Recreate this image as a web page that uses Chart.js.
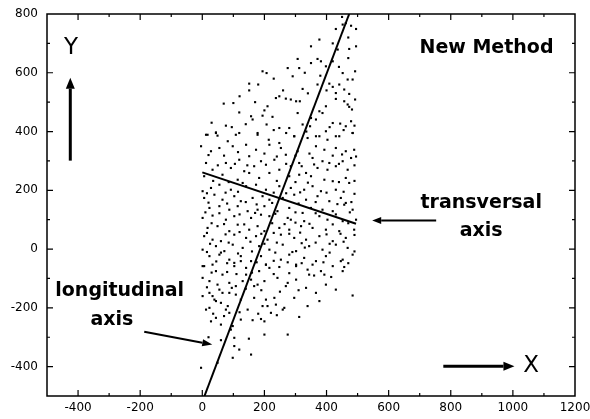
<!DOCTYPE html>
<html>
<head>
<meta charset="utf-8">
<script src="https://cdn.jsdelivr.net/npm/chart.js@4.4.1/dist/chart.umd.min.js"></script>
<style>
html,body{margin:0;padding:0;background:#fff;}
#c{display:block;}
</style>
</head>
<body>
<canvas id="c" width="590" height="419"></canvas>
<script>
// ---- data ----
const xTicks = [-400, -200, 0, 200, 400, 600, 800, 1000, 1200];
const yTicks = [-400, -200, 0, 200, 400, 600, 800];

const longAxisX = [7, 473];
const longAxisY = [-500, 800];
const transAxisX = [0, 495];
const transAxisY = [261, 86];

// scattered points [x, y]
const cloud = [
[452,764],[462,769],[479,760],[430,749],[495,749],[377,713],[473,681],[495,690],[436,679],[307,647],
[350,633],[371,647],[382,639],[420,639],[398,622],[275,616],[312,616],[194,605],[207,599],[452,599],
[492,605],[291,588],[230,580],[151,563],[180,560],[409,563],[420,552],[441,560],[468,577],[484,577],
[151,540],[323,545],[371,560],[457,543],[430,531],[473,528],[237,514],[248,520],[269,512],[285,509],
[302,503],[314,503],[430,511],[492,509],[457,503],[69,495],[100,497],[210,486],[200,472],[398,486],
[468,492],[473,484],[482,475],[119,465],[157,452],[162,441],[194,454],[226,450],[307,463],[387,463],
[377,469],[350,446],[366,441],[76,420],[207,424],[248,412],[280,412],[323,424],[347,418],[420,429],
[444,427],[462,418],[479,435],[17,389],[44,397],[49,386],[119,395],[178,395],[296,384],[366,384],
[398,401],[430,384],[484,395],
[12,389],[44,395],[82,367],[108,389],[178,389],[214,372],[248,361],[296,384],[339,378],[377,384],
[403,372],[441,384],[484,395],
[-4,350],[28,333],[55,344],[98,350],[141,355],[173,338],[216,355],[253,344],[307,333],[366,350],
[393,338],[430,344],[462,333],[489,338],
[12,293],[76,293],[119,304],[151,316],[189,299],[232,304],[269,321],[312,293],[355,310],[387,299],
[409,293],[452,299],[479,310],
[33,270],[92,276],[135,265],[167,282],[205,287],[248,270],[285,282],[334,259],[371,276],[403,270],
[430,282],[468,270],
[6,248],[65,253],[114,236],[151,259],[183,242],[216,259],[280,248],[312,253],[350,248],[393,236],
[420,231],[462,242],
[1,197],[28,208],[55,219],[92,202],[141,214],[173,219],[205,202],[248,214],[285,208],[328,202],
[355,214],[382,197],[430,202],[473,225],
[6,174],[39,185],[65,168],[103,180],[124,163],[162,174],[194,180],[216,168],[259,174],[296,185],
[334,168],[371,180],[409,163],[446,174],[462,157],
[23,140],[55,146],[87,134],[114,146],[146,129],[178,134],[200,146],[242,129],[280,140],[323,123],
[350,140],[387,134],[420,129],[457,151],[484,134],
[1,106],[33,114],[76,100],[103,112],[157,106],[189,117],[216,112],[275,106],[285,100],[328,95],
[377,112],[403,100],[452,95],[495,100],
[17,72],[49,78],[87,61],[114,83],[151,66],[178,78],[200,61],[248,72],[280,66],[318,78],
[355,72],[398,66],[441,61],[489,66],
[6,44],[33,32],[60,27],[103,49],[141,38],[173,44],[210,32],[253,49],[296,38],[334,32],
[377,44],[420,27],[462,38],
[1,-2],[44,10],[71,-7],[98,15],[130,4],[183,10],[216,-2],[259,15],[302,-7],[344,10],
[387,-2],[430,15],[468,4],
[23,-24],[55,-19],[87,-36],[124,-24],[157,-41],[189,-24],[253,-36],[280,-19],[328,-30],[366,-41],
[398,-24],[452,-36],[484,-19],
[1,-58],[33,-53],[103,-58],[141,-64],[205,-53],[248,-61],[302,-58],[355,-53],[420,-58],[457,-61],
[6,-58],[44,-75],[65,-87],[103,-47],[124,-41],[141,-87],[183,-75],[205,-53],[216,-64],[242,-98],
[275,-115],[302,-53],[302,-104],[339,-70],[344,-87],[382,-75],[393,-87],[398,-121],[430,-138],[452,-75],
[446,-41],[484,-158],
[1,-98],[23,-109],[49,-121],[87,-115],[108,-126],[130,-109],[157,-104],[167,-126],[178,-121],[200,-109],
[269,-126],[334,-132],[366,-149],[377,-177],
[1,-160],[23,-149],[33,-160],[39,-172],[65,-149],[87,-149],[108,-155],[124,-172],[167,-166],[205,-172],
[232,-166],[237,-189],[296,-166],[339,-194],
[12,-206],[23,-200],[44,-177],[60,-183],[76,-206],[82,-194],[87,-217],[146,-206],[194,-194],[210,-194],
[221,-217],[259,-206],[264,-200],[312,-231],
[28,-246],[44,-234],[60,-257],[92,-274],[98,-262],[124,-240],[162,-242],[189,-238],[200,-246],
[103,-302],[200,-291],[275,-291],
[103,-330],[119,-342],[98,-370],[157,-359],
[-4,-404],[49,-387],
[30,430],[95,415],[140,425],[230,405],[270,395],[335,400],[410,415],[455,405],[490,420],
[20,320],[70,318],[115,330],[200,325],[240,315],[300,318],[345,325],[420,318],[450,322],[495,315],
[50,285],[105,290],[145,285],[270,290],[320,282],[360,288],[440,290],[490,285],
[35,232],[85,228],[130,225],[240,232],[300,228],[340,226],[440,228],[490,232],
[15,190],[75,192],[115,195],[230,192],[270,190],[315,193],[400,192],[455,195],[490,188],
[20,158],[80,155],[140,160],[175,152],[225,157],[310,155],[365,160],[435,153],[480,160],
[10,125],[55,122],[120,118],[170,123],[235,120],[300,125],[365,122],[430,118],[475,125],
[30,88],[70,85],[135,84],[225,88],[265,85],[300,90],[345,86],[420,84],[470,88],
[15,55],[75,50],[120,58],[190,52],[230,55],[280,52],[315,56],[400,50],[445,52],[490,48],
[25,18],[85,22],[155,25],[200,18],[240,22],[320,20],[365,22],[410,18],[455,25],
[15,-10],[60,-12],[115,-15],[160,-8],[235,-12],[290,-10],[330,5],[410,-12],[490,-8],
[45,-42],[80,-48],[175,-45],[230,-40],[275,-45],[320,-48],[390,-45],[470,-48],
[30,-80],[80,-78],[110,-85],[160,-80],[230,-85],[280,-82],[360,-90],[415,-95],
[15,-130],[55,-138],[95,-132],[140,-135],[190,-140],[250,-145],[310,-140],
[35,-220],[70,-228],[120,-215],[180,-220],[240,-225],
[20,-300],[60,-310],[150,-305],
[120,520],[170,500],[260,540],[340,530],[400,540],[330,600],[380,590],[440,620],[470,650],[350,690],
[420,700],[470,720],[450,790]
];

// annotation anchors (data units)
const labelNewMethod = {text: 'New Method', x: 915, y: 668};
const labelTrans = [{text: 'transversal', x: 898, y: 141}, {text: 'axis', x: 898, y: 46}];
const labelLong = [{text: 'longitudinal', x: -266, y: -161}, {text: 'axis', x: -291, y: -260}];
const arrowTrans = {x1: 753, y1: 97, x2: 547, y2: 97};
const arrowLong = {x1: -187, y1: -281, x2: 32, y2: -325};
const arrowY = {x1: -425, y1: 301, x2: -425, y2: 583};
const arrowX = {x1: 776, y1: -399, x2: 1005, y2: -399};
const labelY = {text: 'Y', x: -423, y: 684};
const labelX = {text: 'X', x: 1059, y: -398};

// ---- drawing ----
const toPts = (xs, ys) => xs.map((x, i) => ({x: x, y: ys[i]}));

function arrow(ctx, x1, y1, x2, y2, lw, hl, hw) {
  const a = Math.atan2(y2 - y1, x2 - x1);
  const bx = x2 - hl * Math.cos(a), by = y2 - hl * Math.sin(a);
  ctx.lineWidth = lw;
  ctx.beginPath(); ctx.moveTo(x1, y1); ctx.lineTo(bx, by); ctx.stroke();
  ctx.beginPath();
  ctx.moveTo(x2, y2);
  ctx.lineTo(bx + hw / 2 * Math.sin(a), by - hw / 2 * Math.cos(a));
  ctx.lineTo(bx - hw / 2 * Math.sin(a), by + hw / 2 * Math.cos(a));
  ctx.closePath(); ctx.fill();
}

const framePlugin = {
  id: 'frame',
  afterDatasetsDraw(chart) {
    const ctx = chart.ctx;
    const {left, right, top, bottom} = chart.chartArea;
    const xs = chart.scales.x, ys = chart.scales.y;
    ctx.save();
    ctx.strokeStyle = '#000'; ctx.fillStyle = '#000';
    ctx.lineWidth = 1.5;
    ctx.strokeRect(left, top, right - left, bottom - top);
    ctx.lineWidth = 1.2;
    ctx.beginPath();
    for (let v = xs.min + 100; v < xs.max; v += 100) {
      const p = xs.getPixelForValue(v);
      const len = (v % 200 === 0) ? 6 : 3;
      ctx.moveTo(p, bottom); ctx.lineTo(p, bottom - len);
      ctx.moveTo(p, top); ctx.lineTo(p, top + len);
    }
    for (let v = ys.min + 100; v < ys.max; v += 100) {
      const p = ys.getPixelForValue(v);
      const len = (v % 200 === 0) ? 6 : 3;
      ctx.moveTo(left, p); ctx.lineTo(left + len, p);
      ctx.moveTo(right, p); ctx.lineTo(right - len, p);
    }
    ctx.stroke();

    const X = v => xs.getPixelForValue(v), Y = v => ys.getPixelForValue(v);
    ctx.textAlign = 'center'; ctx.textBaseline = 'alphabetic';
    ctx.font = 'bold 19px "DejaVu Sans"';
    ctx.fillText(labelNewMethod.text, X(labelNewMethod.x), Y(labelNewMethod.y));
    labelTrans.concat(labelLong).forEach(l => ctx.fillText(l.text, X(l.x), Y(l.y)));
    ctx.font = '23px "DejaVu Sans"';
    ctx.textBaseline = 'middle';
    ctx.fillText(labelY.text, X(labelY.x), Y(labelY.y));
    ctx.fillText(labelX.text, X(labelX.x), Y(labelX.y));

    arrow(ctx, X(arrowTrans.x1), Y(arrowTrans.y1), X(arrowTrans.x2), Y(arrowTrans.y2), 2, 9, 7);
    arrow(ctx, X(arrowLong.x1), Y(arrowLong.y1), X(arrowLong.x2), Y(arrowLong.y2), 2, 10, 7);
    arrow(ctx, X(arrowY.x1), Y(arrowY.y1), X(arrowY.x2), Y(arrowY.y2), 3, 11, 9);
    arrow(ctx, X(arrowX.x1), Y(arrowX.y1), X(arrowX.x2), Y(arrowX.y2), 3, 11, 9);
    ctx.restore();
  }
};

Chart.defaults.font.family = '"DejaVu Sans"';
Chart.defaults.font.size = 12;
Chart.defaults.color = '#000';

new Chart(document.getElementById('c'), {
  type: 'scatter',
  data: {
    datasets: [
      {data: toPts(longAxisX, longAxisY), showLine: true, borderColor: '#000', borderWidth: 2, pointRadius: 0},
      {data: toPts(transAxisX, transAxisY), showLine: true, borderColor: '#000', borderWidth: 2, pointRadius: 0},
      {data: cloud.map(p => ({x: p[0], y: p[1]})), pointStyle: 'rect', pointRadius: 1.5,
       backgroundColor: '#000', borderWidth: 0, pointBorderWidth: 0}
    ]
  },
  options: {
    responsive: false,
    animation: false,
    devicePixelRatio: 1,
    layout: {padding: {top: 14, right: 15, left: 0, bottom: 0}},
    plugins: {legend: {display: false}, tooltip: {enabled: false}},
    scales: {
      x: {
        type: 'linear', min: -500, max: 1200,
        grid: {display: false, drawTicks: false}, border: {display: false},
        afterBuildTicks: s => { s.ticks = xTicks.map(v => ({value: v})); },
        afterFit: s => { s.height = 23; s.paddingLeft = 0; s.paddingRight = 0; },
        ticks: {padding: 5, maxRotation: 0, autoSkip: false, font: {size: 12},
                callback: v => String(v)}
      },
      y: {
        type: 'linear', min: -500, max: 800,
        grid: {display: false, drawTicks: false}, border: {display: false},
        afterBuildTicks: s => { s.ticks = yTicks.map(v => ({value: v})); },
        afterFit: s => { s.width = 47; s.paddingTop = 0; s.paddingBottom = 0; },
        ticks: {padding: 9, autoSkip: false, font: {size: 12}, callback: v => String(v)}
      }
    }
  },
  plugins: [framePlugin]
});
</script>
</body>
</html>
